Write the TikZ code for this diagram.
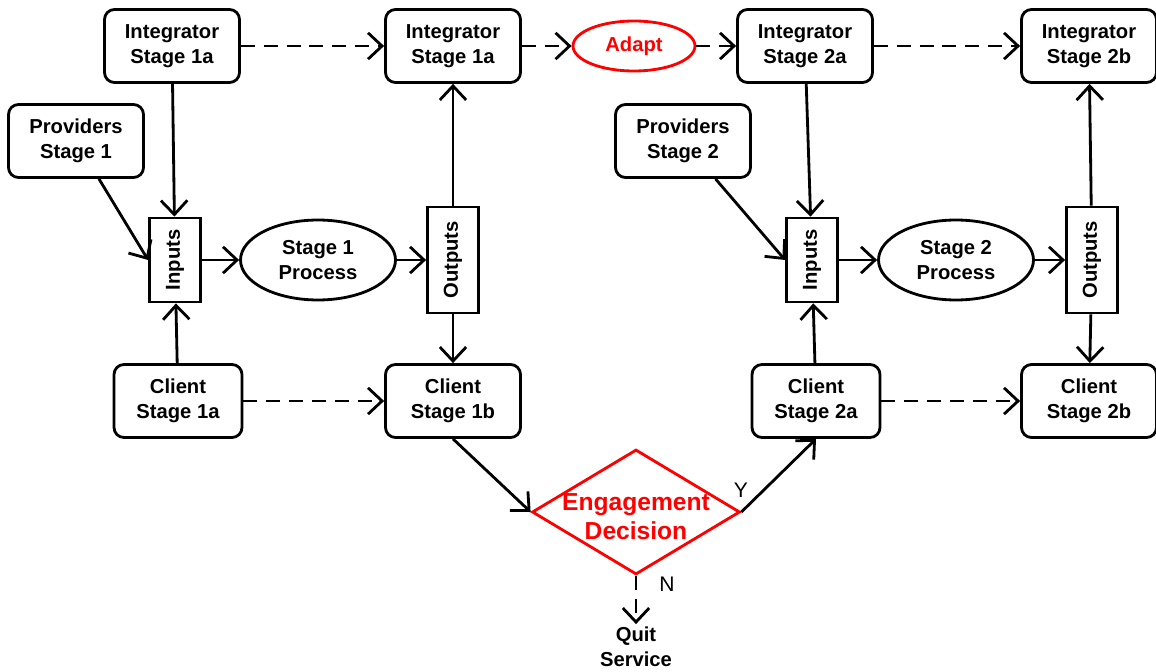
\documentclass[tikz,border=0pt]{standalone}
\usepackage{fontspec}
\setmainfont{Liberation Sans}
\usetikzlibrary{arrows.meta,shapes.geometric}

\begin{document}
\begin{tikzpicture}[x = 0.02cm, y = -0.02cm, line width = 1.6pt,
                      >= {Straight Barb[length=8pt, width=15pt]},
                      box/.style = {draw, rounded corners = 0.2cm, align = center, inner sep = 2pt,
                                    font = \bfseries\fontsize{11.5}{14}\selectfont,
                                    minimum width = 2.7cm, minimum height = 1.46cm},
                      smallbox/.style = {box, minimum width = 2.56cm},
                      port/.style = {draw, inner sep = 0pt, font = \bfseries\fontsize{11.5}{14}\selectfont,
                                     minimum width = 1.02cm},
                      proc/.style = {ellipse, draw, align = center, inner sep = 0pt,
                                     font = \bfseries\fontsize{11.5}{14}\selectfont,
                                     minimum width = 3.1cm, minimum height = 1.6cm},
                      decision/.style = {diamond, draw = red, inner sep = 0pt,
                                         minimum width = 4.16cm, minimum height = 2.5cm},
                      later/.style = {dash pattern = on 8pt off 5pt}]
    \useasboundingbox (0, 0) rectangle (1156, 672);
    % top row
    \node [box] (i1a) at (172, 46) {Integrator\\Stage 1a};
    \node [box] (i1b) at (453, 46) {Integrator\\Stage 1a};
    \node [ellipse, draw = red, text = red, inner sep = 0pt, minimum width = 2.44cm, minimum height = 1cm,
           font = \bfseries\fontsize{11.5}{14}\selectfont] (adapt) at (634, 46) {Adapt};
    \node [box] (i2a) at (805, 46) {Integrator\\Stage 2a};
    \node [box] (i2b) at (1089, 46) {Integrator\\Stage 2b};
    \node [box] (prov1) at (76, 141) {Providers\\Stage 1};
    \node [box] (prov2) at (683, 141) {Providers\\Stage 2};
    % middle row
    \node [port, minimum height = 1.68cm] (in1) at (175, 260) {\rotatebox{90}{Inputs}};
    \node [proc] (proc1) at (318, 260) {Stage 1\\Process};
    \node [port, minimum height = 2.12cm] (out1) at (453, 260) {\rotatebox{90}{Outputs}};
    \node [port, minimum height = 1.68cm] (in2) at (812, 260) {\rotatebox{90}{Inputs}};
    \node [proc] (proc2) at (956, 260) {Stage 2\\Process};
    \node [port, minimum height = 2.12cm] (out2) at (1092, 260) {\rotatebox{90}{Outputs}};
    % bottom row
    \node [smallbox] (c1a) at (178, 401) {Client\\Stage 1a};
    \node [box] (c1b) at (453, 401) {Client\\Stage 1b};
    \node [smallbox] (c2a) at (816, 401) {Client\\Stage 2a};
    \node [box] (c2b) at (1089, 401) {Client\\Stage 2b};
    \node [decision] (dec) at (636, 512) {};
    \node [align = center, text = red, font = \bfseries\fontsize{14}{16.5}\selectfont] (dect) at (636, 517) {Engagement\\Decision};
    \node [font = \fontsize{12}{14}\selectfont] (yes) at (741, 490) {Y};
    \node [font = \fontsize{12}{14}\selectfont] (no) at (667, 584) {N};
    \node [align = center, inner sep = 1pt, font = \bfseries\fontsize{11.5}{14}\selectfont] (quit) at (636, 647) {Quit\\Service};

    \draw [->, later] (i1a) -- (i1b);
    \draw [->, later] (i1b) -- (adapt);
    \draw [->, later] (adapt) -- (i2a);
    \draw [->, later] (i2a) -- (i2b);
    \draw [->, later] (c1a) -- (c1b);
    \draw [->, later] (c2a) -- (c2b);
    \draw [->] (i1a) -- (in1);
    \draw [->] (prov1) -- (in1.west);
    \draw [->] (c1a) -- (in1);
    \draw [->] (in1) -- (proc1);
    \draw [->] (proc1) -- (out1);
    \draw [->] (out1) -- (i1b);
    \draw [->] (out1) -- (c1b);
    \draw [->] (i2a) -- (in2);
    \draw [->] (prov2) -- (in2.west);
    \draw [->] (c2a) -- (in2);
    \draw [->] (in2) -- (proc2);
    \draw [->] (proc2) -- (out2);
    \draw [->] (out2) -- (i2b);
    \draw [->] (out2) -- (c2b);
    \draw [->] (c1b.south) -- (dec.west);
    \draw [->] (dec.east) -- (c2a.south);
    \draw [->, later] (dec.south) -- (quit.north);
\end{tikzpicture}
\end{document}
